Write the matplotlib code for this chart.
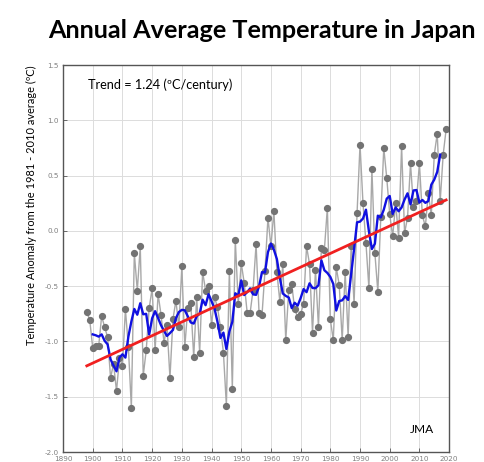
import numpy as np
import pandas as pd
import matplotlib
matplotlib.use("Agg")
import matplotlib.pyplot as plt

# Annual mean temperature anomaly in Japan (deg C, vs 1981-2010)
years = list(range(1898, 2020))
anomaly = [
    -0.73, -0.81, -1.06, -1.04, -1.04, -0.77, -0.87, -0.96, -1.33, -1.20,   # 1898-1907
    -1.45, -1.15, -1.22, -0.71, -1.05, -1.60, -0.20, -0.54, -0.14, -1.31,   # 1908-1917
    -1.08, -0.70, -0.52, -1.08, -0.57, -0.76, -1.01, -0.85, -1.33, -0.80,   # 1918-1927
    -0.63, -0.87, -0.32, -1.05, -0.70, -0.65, -1.14, -0.60, -1.10, -0.37,   # 1928-1937
    -0.54, -0.50, -0.85, -0.60, -0.69, -0.87, -1.10, -1.58, -0.36, -1.43,   # 1938-1947
    -0.08, -0.66, -0.29, -0.47, -0.74, -0.74, -0.53, -0.12, -0.74, -0.76,   # 1948-1957
    -0.36, 0.12, -0.14, 0.18, -0.37, -0.64, -0.30, -0.99, -0.53, -0.48,     # 1958-1967
    -0.71, -0.78, -0.75, -0.66, -0.14, -0.30, -0.92, -0.35, -0.87, -0.15,   # 1968-1977
    -0.17, 0.21, -0.80, -0.99, -0.33, -0.49, -0.99, -0.37, -0.96, -0.14,    # 1978-1987
    -0.66, 0.16, 0.78, 0.25, -0.11, -0.52, 0.56, -0.20, -0.55, 0.13,        # 1988-1997
    0.75, 0.48, 0.15, -0.05, 0.25, -0.06, 0.77, -0.02, 0.12, 0.61,          # 1998-2007
    0.22, 0.27, 0.61, 0.14, 0.04, 0.34, 0.14, 0.69, 0.88, 0.27,             # 2008-2017
    0.69, 0.92,                                                             # 2018-2019
]

# long-term trend as printed on the chart
trend_rate = 1.24        # deg C per century
trend_end_value = 0.28   # trend line value at the last year

title = "Annual Average Temperature in Japan"
ylabel = "Temperature Anomaly from the 1981 - 2010 average (\u00baC)"
trend_label = "Trend = 1.24 (\u00baC/century)"
x_ticks = list(range(1890, 2021, 10))
y_ticks = [-2.0, -1.5, -1.0, -0.5, 0.0, 0.5, 1.0, 1.5]

df = pd.DataFrame({"year": years, "anom": anomaly})
df["smooth"] = df["anom"].rolling(5, center=True).mean()
trend = trend_end_value + trend_rate / 100.0 * (df["year"] - df["year"].iloc[-1])

fig = plt.figure(figsize=(4.85, 4.62), dpi=100)
ax = fig.add_axes([0.130, 0.0216, 0.796, 0.8375])

ax.plot(df["year"], df["anom"], color="#a8a8a8", lw=1.0, zorder=2,
        marker="o", markersize=4.2, markerfacecolor="#737373",
        markeredgecolor="#737373")
ax.plot(df["year"], df["smooth"], color="#1010e0", lw=1.7, zorder=3)
ax.plot(df["year"], trend, color="#f02020", lw=2.0, zorder=4)

ax.set_xlim(1890, 2020)
ax.set_ylim(-2.0, 1.5)
ax.set_xticks(x_ticks)
ax.set_yticks(y_ticks)
ax.set_xticklabels([str(t) for t in x_ticks])
ax.set_yticklabels(["%.1f" % t for t in y_ticks])
ax.grid(True, color="#dcdcdc", lw=0.7)
ax.set_axisbelow(True)
ax.tick_params(direction="in", length=3, width=0.6, colors="#555555",
               labelsize=5.2, labelcolor="#808080", pad=3)
for s in ax.spines.values():
    s.set_color("#555555")
    s.set_linewidth(1.0)

ax.text(0.065, 0.948, trend_label, transform=ax.transAxes, fontsize=9.2,
        family="Lato", ha="left", va="center", color="black")
ax.text(0.897, 0.057, "JMA", transform=ax.transAxes, fontsize=8.6,
        family="Lato", ha="left", va="center", color="black")

fig.text(0.54, 0.933, title, fontsize=18.2, fontweight="bold", family="Lato",
         ha="center", va="center")
fig.text(0.064, 0.556, ylabel, rotation=90, fontsize=7.9, family="Lato",
         ha="center", va="center")

fig.savefig("out.png", dpi=100)
